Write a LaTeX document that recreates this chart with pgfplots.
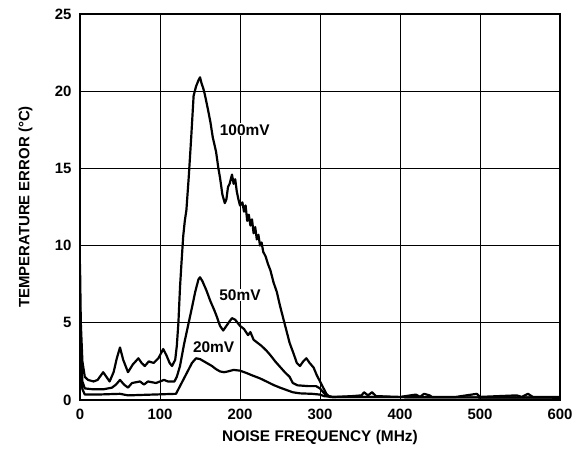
\documentclass[border=0pt]{standalone}
\usepackage{pgfplots}
\pgfplotsset{compat=1.18}
\usepackage{fontspec}
\setmainfont{Liberation Sans}

\begin{document}
\begin{tikzpicture}[x=1bp,y=1bp]
  \useasboundingbox (0,0) rectangle (582,451);
  \begin{axis}[
      at={(80bp,51bp)}, anchor=south west,
      scale only axis,
      width=480bp, height=386bp,
      xmin=0, xmax=600, ymin=0, ymax=25,
      xtick={0,100,...,600},
      ytick={0,5,...,25},
      grid=major,
      grid style={black, line width=0.8pt},
      axis line style={black, line width=1.3pt},
      major tick length=0pt,
      /pgf/number format/assume math mode=true,
      tick label style={font=\fontsize{15}{17}\selectfont\bfseries},
      label style={font=\fontsize{15}{17}\selectfont\bfseries},
      xlabel={NOISE FREQUENCY (MHz)},
      ylabel={TEMPERATURE ERROR (°C)},
      xlabel style={at={(axis description cs:0.5,0)}, anchor=north, yshift=-27bp,
        font=\fontsize{15.5}{17}\selectfont\bfseries},
      ylabel style={at={(axis description cs:0,0.5)}, anchor=south, yshift=44bp},
      xticklabel style={anchor=north, yshift=-6bp},
      yticklabel style={anchor=east, xshift=-5bp},
    ]
    % 100mV
    \addplot[black, line width=2.2pt, line join=round] coordinates {
      (0,8.8) (1,5) (3,2.5) (6,1.5) (10,1.3) (17,1.2) (22,1.3) (29,1.8) (33,1.5)
      (37,1.2) (42,1.8) (46,2.7) (50,3.4) (54,2.6) (60,1.8) (66,2.3) (73,2.7)
      (77,2.4) (81,2.2) (86,2.5) (92,2.4) (98,2.7) (104,3.3) (108,2.9) (112,2.4)
      (115,2.2) (119,2.6) (121,3.5) (123,5) (125,7.3) (127,9) (129,10.6) (131,11.6)
      (133,12.3) (136,14.5) (139,17) (142,19.7) (145,20.3) (148,20.7) (150,20.9)
      (152,20.5) (154,20.2) (156,19.8) (160,18.8) (163,18) (166,17) (170,16.1)
      (173,15) (175,14.4) (178,13.3) (181,12.75) (183,13) (185,13.8) (187,14)
      (190,14.6) (192,14) (194,14.3) (196,13.5) (198,13) (200,12.6) (203,12.8)
      (205,12.2) (207,12.6) (209,11.6) (211,12) (213,11.3) (215,11.7) (217,10.8)
      (219,11.2) (221,10.4) (223,10.7) (225,10) (227,10.2) (229,9.6) (232,9.3)
      (235,8.8) (238,8.4) (242,7.6) (246,7) (250,6.1) (254,5.3) (258,4.5) (262,3.7)
      (267,3.0) (271,2.4) (275,2.2) (279,2.5) (283,2.7) (287,2.4) (292,2.1)
      (296,1.6) (300,1.2) (304,0.8) (308,0.4) (312,0.2) (320,0.2) (340,0.25)
      (352,0.3) (355,0.5) (360,0.3) (365,0.5) (370,0.25) (400,0.2) (420,0.35)
      (425,0.2) (430,0.4) (437,0.3) (440,0.2) (470,0.2) (496,0.4) (500,0.2)
      (546,0.3) (552,0.2) (560,0.4) (566,0.2) (600,0.2)
    };
    % 50mV
    \addplot[black, line width=2.2pt, line join=round] coordinates {
      (0,6) (1,3) (3,1.2) (6,0.75) (15,0.7) (30,0.7) (40,0.8) (45,1.0) (50,1.3)
      (55,1.0) (60,0.8) (65,1.1) (75,1.2) (80,1.0) (85,1.2) (95,1.1) (100,1.2)
      (105,1.3) (110,1.2) (118,1.2) (121,1.5) (125,2.2) (130,3.6) (135,4.8)
      (140,6.0) (144,7.0) (148,7.8) (150,7.95) (153,7.7) (158,7.1) (163,6.4)
      (168,5.8) (171,5.4) (175,4.8) (179,4.5) (183,4.8) (187,5.1) (190,5.3)
      (194,5.2) (200,4.8) (205,4.6) (210,4.2) (213,4.4) (217,3.9) (222,3.7)
      (227,3.5) (233,3.2) (238,2.9) (244,2.5) (250,2.15) (256,1.8) (262,1.5)
      (266,1.1) (272,0.95) (285,0.9) (295,0.9) (300,0.75) (304,0.5) (308,0.3)
      (315,0.2) (600,0.15)
    };
    % 20mV
    \addplot[black, line width=2.2pt, line join=round] coordinates {
      (0,4) (1,2) (3,0.7) (6,0.35) (20,0.35) (50,0.4) (60,0.3) (90,0.35)
      (120,0.4) (122,0.6) (125,0.9) (130,1.4) (135,1.9) (140,2.4) (145,2.7)
      (150,2.65) (155,2.5) (160,2.35) (165,2.2) (170,2.0) (175,1.85) (180,1.8)
      (185,1.85) (192,1.95) (200,1.9) (208,1.75) (215,1.6) (225,1.4) (233,1.2)
      (242,0.97) (250,0.8) (258,0.65) (266,0.5) (275,0.43) (290,0.4) (300,0.35)
      (305,0.25) (315,0.2) (600,0.15)
    };
    \node[font=\fontsize{15.5}{17}\selectfont\bfseries, fill=white, inner sep=1pt] at (axis cs:206,17.5) {100mV};
    \node[font=\fontsize{15.5}{17}\selectfont\bfseries, fill=white, inner sep=1pt] at (axis cs:200,6.8) {50mV};
    \node[font=\fontsize{15.5}{17}\selectfont\bfseries, fill=white, inner sep=1pt] at (axis cs:167,3.4) {20mV};
  \end{axis}
\end{tikzpicture}
\end{document}
